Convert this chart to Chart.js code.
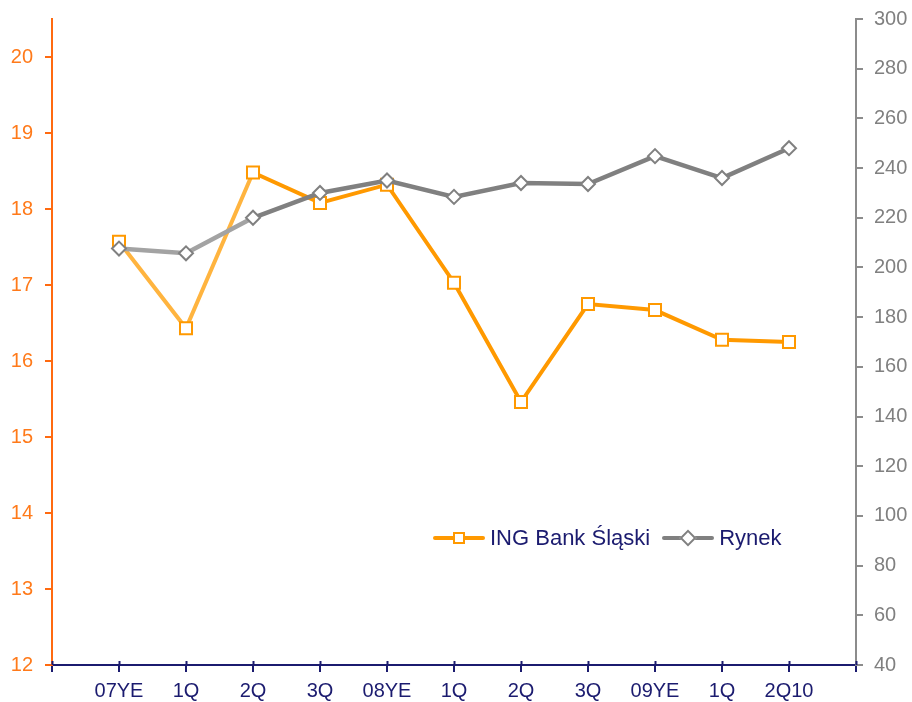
<!DOCTYPE html>
<html>
<head>
<meta charset="utf-8">
<script src="https://cdn.jsdelivr.net/npm/chart.js@4.4.1/dist/chart.umd.min.js"></script>
<style>
  body { margin: 0; background: #fff; }
  #wrap { position: relative; width: 912px; height: 702px; }
  #legend {
    position: absolute; left: 433px; top: 525px; height: 26px;
    display: flex; align-items: center;
    font-family: "Liberation Sans", Arial, sans-serif; font-size: 22px; color: #1b1b6f;
  }
  .sw { position: relative; width: 52px; height: 26px; margin-right: 5px; }
  .sw .ln { position: absolute; left: 0; right: 0; top: 11px; height: 4px; border-radius: 2px; }
  .sw .mk { position: absolute; background: #fff; box-sizing: border-box; }
  .sq { left: 20px; top: 7px; width: 12px; height: 12px; border: 2px solid #ff9900; }
  .dm { left: 20px; top: 7px; width: 12px; height: 12px; border: 2px solid #808080; transform: rotate(45deg); }
</style>
</head>
<body>
<div id="wrap">
  <canvas id="chart" width="912" height="702"></canvas>
  <div id="legend">
    <span class="sw"><span class="ln" style="background:#ff9900"></span><span class="mk sq"></span></span>
    <span style="margin-right:12px">ING Bank Śląski</span>
    <span class="sw"><span class="ln" style="background:#808080"></span><span class="mk dm"></span></span>
    <span>Rynek</span>
  </div>
</div>
<script>
const labels = ["07YE", "1Q", "2Q", "3Q", "08YE", "1Q", "2Q", "3Q", "09YE", "1Q", "2Q10"];
const ingValues = [17.57, 16.43, 18.48, 18.08, 18.32, 17.03, 15.46, 16.75, 16.67, 16.28, 16.25];
const rynekValues = [207.6, 205.7, 220, 230, 235, 228.4, 234, 233.6, 244.8, 236, 248];

const orange = "#ff9900", orangeLight = "#ffb43f";
const gray = "#808080", grayLight = "#a3a3a3";
const navy = "#1b1b6f";
const font = { family: "'Liberation Sans', Arial, sans-serif", size: 20 };

const toPoints = vals => vals.map((v, i) => ({ x: i + 1, y: v }));

// fixed axis box sizes so the plot area sits where it does in the original
const fixY = w => s => { s.width = w; s.paddingTop = 0; s.paddingBottom = 0; };

// x tick marks in the original cross the axis line, so draw the upper half too
const crossTicks = {
  id: "crossTicks",
  afterDraw(chart) {
    const x = chart.scales.x, ctx = chart.ctx, y0 = x.top;
    ctx.save();
    ctx.strokeStyle = navy;
    ctx.lineWidth = 2;
    x.ticks.forEach(t => {
      const px = Math.round(x.getPixelForValue(t.value)) + 0.5;
      ctx.beginPath();
      ctx.moveTo(px, y0 - 4);
      ctx.lineTo(px, y0);
      ctx.stroke();
    });
    ctx.restore();
  }
};

new Chart(document.getElementById("chart"), {
  type: "line",
  data: {
    datasets: [
      {
        label: "ING Bank Śląski",
        data: toPoints(ingValues),
        yAxisID: "yL",
        order: 1,
        borderColor: orange,
        borderWidth: 4,
        pointStyle: "rect",
        pointRadius: 8.5,
        pointBorderWidth: 2,
        pointBorderColor: orange,
        pointBackgroundColor: "#fff",
        segment: { borderColor: c => c.p0DataIndex < 2 ? orangeLight : orange }
      },
      {
        label: "Rynek",
        data: toPoints(rynekValues),
        yAxisID: "yR",
        order: 0,
        borderColor: gray,
        borderWidth: 4.5,
        pointStyle: "rectRot",
        pointRadius: 7,
        pointBorderWidth: 2,
        pointBorderColor: gray,
        pointBackgroundColor: "#fff",
        segment: { borderColor: c => c.p0DataIndex < 2 ? grayLight : gray }
      }
    ]
  },
  options: {
    responsive: false,
    animation: false,
    layout: { padding: { top: 19, left: 0, right: 0, bottom: 0 } },
    plugins: { legend: { display: false }, tooltip: { enabled: false } },
    scales: {
      x: {
        type: "linear",
        min: 0, max: 12,
        afterFit: s => { s.height = 37; s.paddingLeft = 0; s.paddingRight = 0; },
        border: { color: navy, width: 2 },
        grid: { drawOnChartArea: false, color: navy, lineWidth: 2, tickLength: 7 },
        ticks: {
          stepSize: 1, maxTicksLimit: 30, autoSkip: false, maxRotation: 0,
          color: navy, font: font, padding: 7,
          callback: v => labels[v - 1] || ""
        }
      },
      yL: {
        position: "left",
        min: 12, max: 20.5,
        afterFit: fixY(52),
        border: { color: "#ff6a10", width: 2 },
        grid: { drawOnChartArea: false, color: "#ff6a10", lineWidth: 2, tickLength: 7 },
        ticks: { stepSize: 1, includeBounds: false, color: "#ff7a1a", font: font, padding: 12 }
      },
      yR: {
        position: "right",
        min: 40, max: 300,
        afterFit: fixY(56),
        border: { color: "#8c8c8c", width: 2 },
        grid: { drawOnChartArea: false, color: "#8c8c8c", lineWidth: 2, tickLength: 7 },
        ticks: { stepSize: 20, maxTicksLimit: 30, color: "#808080", font: font, padding: 11 }
      }
    }
  },
  plugins: [crossTicks]
});
</script>
</body>
</html>
